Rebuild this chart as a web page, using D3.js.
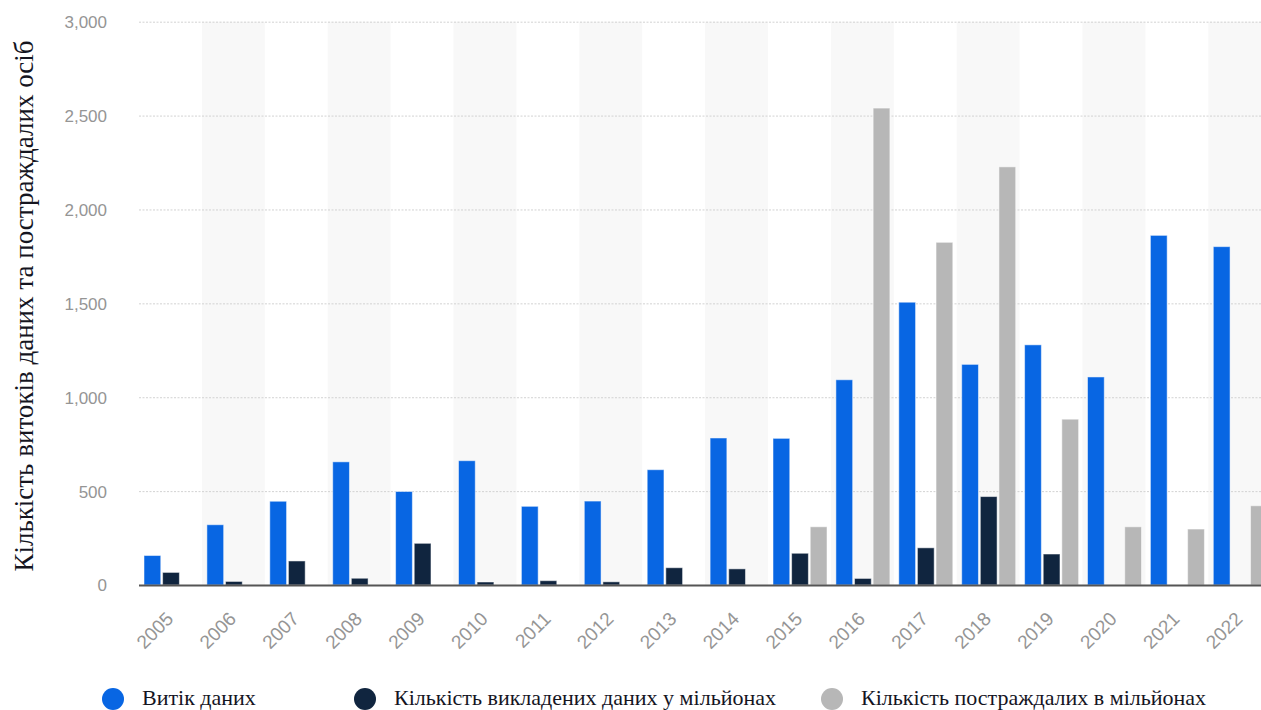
<!DOCTYPE html>
<html>
<head>
<meta charset="utf-8">
<script src="https://cdn.jsdelivr.net/npm/d3@7"></script>
<style>
  html, body { margin: 0; padding: 0; background: #fff; overflow: hidden; }
  svg { display: block; }
</style>
</head>
<body>
<svg id="chart" width="1261" height="710"></svg>
<script>
// ---- Data ----
const years = ["2005","2006","2007","2008","2009","2010","2011","2012","2013","2014","2015","2016","2017","2018","2019","2020","2021","2022"];
const breaches = [157, 321, 446, 656, 498, 662, 419, 447, 614, 783, 781, 1093, 1506, 1175, 1279, 1108, 1862, 1802];
const exposedRecords = [67, 19, 128, 36, 222, 16, 23, 17, 92, 86, 169, 35, 198, 471, 165, null, null, null];
const victims = [null, null, null, null, null, null, null, null, null, null, 310, 2540, 1825, 2227, 883, 310, 298, 422];
const seriesNames = ["Витік даних", "Кількість викладених даних у мільйонах", "Кількість постраждалих в мільйонах"];
const seriesColors = ["#0866e3", "#10253f", "#b7b7b7"];
const yTicks = [0, 500, 1000, 1500, 2000, 2500, 3000];
const yTitle = "Кількість витоків даних та постраждалих осіб";

const seriesValues = [breaches, exposedRecords, victims];
const keys = ["s0", "s1", "s2"];

const svg = d3.select("#chart");

const plotLeft = 139, plotTop = 21.7, plotBottom = 585;
const step = 62.9;
const x = d3.scaleBand().domain(years).range([plotLeft, plotLeft + step * years.length]).padding(0);
const xSub = d3.scaleBand().domain(keys).range([5, 59]).paddingInner(0.1).paddingOuter(0);
const y = d3.scaleLinear().domain([0, 3000]).range([plotBottom, plotTop]);

// alternating band shading
svg.append("g").selectAll("rect")
  .data(years.filter((d, i) => i % 2 === 1))
  .join("rect")
  .attr("x", d => x(d))
  .attr("y", plotTop)
  .attr("width", x.bandwidth())
  .attr("height", plotBottom - plotTop)
  .attr("fill", "#f8f8f8");

// gridlines
const yAxisGrid = d3.axisLeft(y).tickValues(yTicks.filter(t => t > 0)).tickSize(-(1261 - plotLeft)).tickFormat("");
svg.append("g")
  .attr("transform", `translate(${plotLeft},0)`)
  .call(yAxisGrid)
  .call(g => g.select(".domain").remove())
  .call(g => g.selectAll("line").attr("stroke", "#d2d2d2").attr("stroke-width", 1).attr("stroke-dasharray", "2,1.5"));

// y tick labels
const yAxis = d3.axisLeft(y).tickValues(yTicks).tickSize(0).tickPadding(0).tickFormat(d3.format(","));
svg.append("g")
  .attr("transform", `translate(107,0)`)
  .call(yAxis)
  .call(g => g.select(".domain").remove())
  .call(g => g.selectAll("text")
      .attr("fill", "#959595")
      .attr("font-family", "Liberation Sans, Arial, sans-serif")
      .attr("font-size", 17)
      .attr("dy", "0.35em"));

// bars
const rows = [];
years.forEach((yr, i) => {
  seriesValues.forEach((arr, s) => {
    if (arr[i] != null) rows.push({ year: yr, key: keys[s], s: s, v: arr[i] });
  });
});
svg.append("g").selectAll("rect")
  .data(rows)
  .join("rect")
  .attr("x", d => x(d.year) + xSub(d.key))
  .attr("y", d => y(d.v))
  .attr("width", xSub.bandwidth())
  .attr("height", d => plotBottom - y(d.v))
  .attr("fill", d => seriesColors[d.s])
  .attr("stroke", "rgba(255,255,255,0.5)")
  .attr("stroke-width", 1);

// x axis line
svg.append("line")
  .attr("x1", plotLeft).attr("x2", 1261)
  .attr("y1", plotBottom + 0.5).attr("y2", plotBottom + 0.5)
  .attr("stroke", "#555").attr("stroke-width", 2);

// x axis labels
const xAxis = d3.axisBottom(x).tickSize(0).tickPadding(0);
svg.append("g")
  .attr("transform", `translate(0,${plotBottom})`)
  .call(xAxis)
  .call(g => g.select(".domain").remove())
  .call(g => g.selectAll("text")
      .attr("fill", "#959595")
      .attr("font-family", "Liberation Sans, Arial, sans-serif")
      .attr("font-size", 19)
      .attr("text-anchor", "end")
      .attr("dy", 0)
      .attr("y", 0)
      .attr("transform", "translate(4,35) rotate(-45)"));

// y title
svg.append("text")
  .attr("transform", `translate(33,306) rotate(-90)`)
  .attr("text-anchor", "middle")
  .attr("font-family", "Liberation Serif, Times New Roman, serif")
  .attr("font-size", 27)
  .attr("fill", "#15151f")
  .text(yTitle);

// legend
const legendX = [113, 365, 832];
const lg = svg.append("g").selectAll("g")
  .data(seriesNames)
  .join("g")
  .attr("transform", (d, i) => `translate(${legendX[i]},699)`);
lg.append("circle").attr("r", 11).attr("fill", (d, i) => seriesColors[i]);
lg.append("text")
  .attr("x", 29)
  .attr("y", 6)
  .attr("font-family", "Liberation Serif, Times New Roman, serif")
  .attr("font-size", 22)
  .attr("fill", "#15151f")
  .text(d => d);
</script>
</body>
</html>
